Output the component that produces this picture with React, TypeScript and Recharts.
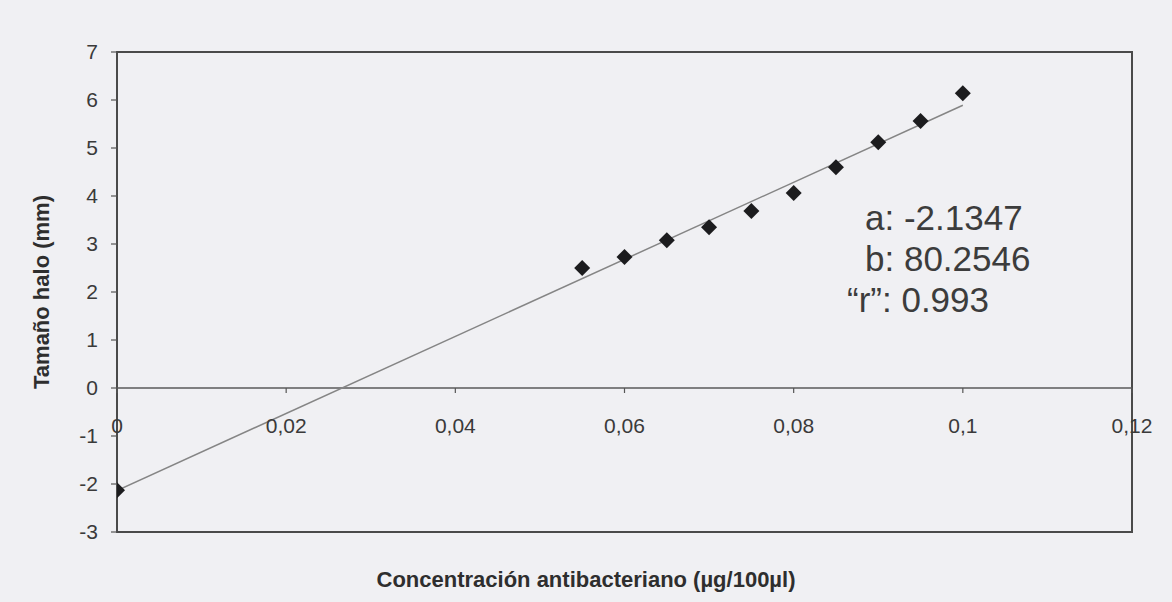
import { ScatterChart, Scatter, XAxis, YAxis, ReferenceLine, ReferenceArea } from "recharts";

const concentration = [0, 0.055, 0.06, 0.065, 0.07, 0.075, 0.08, 0.085, 0.09, 0.095, 0.1];
const haloSize = [-2.13, 2.5, 2.73, 3.08, 3.35, 3.69, 4.06, 4.6, 5.12, 5.56, 6.14];

// regression line end points (a: -2.1347, b: 80.2546)
const trendX = [0, 0.1];
const trendY = [-2.1347, 5.8908];

const xTicks = [0, 0.02, 0.04, 0.06, 0.08, 0.1, 0.12];
const yTicks = [-3, -2, -1, 0, 1, 2, 3, 4, 5, 6, 7];

const fitLines = ["a: -2.1347", "b: 80.2546", "\u201cr\u201d: 0.993"];

const points = concentration.map((x, i) => ({ x, y: haloSize[i] }));
const trend = trendX.map((x, i) => ({ x, y: trendY[i] }));

const W = 1172;
const H = 602;
const TOP = 52;
const BOTTOM = 532;
const LEFT = 117;
const RIGHT = 1132;
const ZERO_Y = TOP + (7 / 10) * (BOTTOM - TOP);
const FONT = "'Liberation Sans', Arial, sans-serif";

const Diamond = (props: any) => {
  const { cx, cy } = props;
  const r = 8;
  return (
    <polygon
      points={`${cx},${cy - r} ${cx + r},${cy} ${cx},${cy + r} ${cx - r},${cy}`}
      fill="#1c1c1e"
    />
  );
};

const XTick = (props: any) => {
  const { x, payload } = props;
  const label = String(payload.value).replace(".", ",");
  return (
    <g>
      <line x1={x} x2={x} y1={ZERO_Y} y2={ZERO_Y + 5} stroke="#555" strokeWidth={1.2} />
      <text x={x} y={ZERO_Y + 45} textAnchor="middle" fontSize={21} fontFamily={FONT} fill="#3a3a3a">
        {label}
      </text>
    </g>
  );
};

export default function App() {
  return (
    <div style={{ position: "absolute", left: 0, top: 0, width: W, height: H, background: "#f0f0f3" }}>
      <ScatterChart width={W} height={H} margin={{ top: TOP, right: W - RIGHT, bottom: 0, left: 0 }}>
        <XAxis
          type="number"
          dataKey="x"
          domain={[0, 0.12]}
          ticks={xTicks}
          axisLine={false}
          tickLine={false}
          height={H - BOTTOM}
          tick={<XTick />}
          allowDataOverflow
        />
        <YAxis
          type="number"
          dataKey="y"
          domain={[-3, 7]}
          ticks={yTicks}
          width={LEFT}
          axisLine={false}
          tickLine={{ stroke: "#555", strokeWidth: 1.2 }}
          tickSize={6}
          tickMargin={13}
          tick={{ fontSize: 21, fontFamily: FONT, fill: "#3a3a3a" }}
          allowDataOverflow
        />
        <ReferenceArea x1={0} x2={0.12} y1={-3} y2={7} fill="none" stroke="#4a4a4a" strokeWidth={2} ifOverflow="visible" />
        <ReferenceLine y={0} stroke="#5a5a5a" strokeWidth={1.5} />
        <Scatter
          data={trend}
          line={{ stroke: "#858585", strokeWidth: 1.5 }}
          shape={() => <g />}
          isAnimationActive={false}
        />
        <Scatter data={points} shape={<Diamond />} isAnimationActive={false} />
      </ScatterChart>
      <svg
        width={W}
        height={H}
        style={{ position: "absolute", left: 0, top: 0, pointerEvents: "none" }}
      >
        <text
          transform={`translate(49, ${(TOP + BOTTOM) / 2}) rotate(-90)`}
          textAnchor="middle"
          fontSize={22}
          fontWeight="bold"
          fontFamily={FONT}
          fill="#2e2e2e"
        >
          Tamaño halo (mm)
        </text>
        <text x={586} y={587} textAnchor="middle" fontSize={22} fontWeight="bold" fontFamily={FONT} fill="#2e2e2e">
          Concentración antibacteriano (µg/100µl)
        </text>
        <text x={865} y={230} fontSize={35} fontFamily={FONT} fill="#3c3c3c">{fitLines[0]}</text>
        <text x={865} y={271} fontSize={35} fontFamily={FONT} fill="#3c3c3c">{fitLines[1]}</text>
        <text x={847} y={312} fontSize={35} fontFamily={FONT} fill="#3c3c3c">{fitLines[2]}</text>
      </svg>
    </div>
  );
}
